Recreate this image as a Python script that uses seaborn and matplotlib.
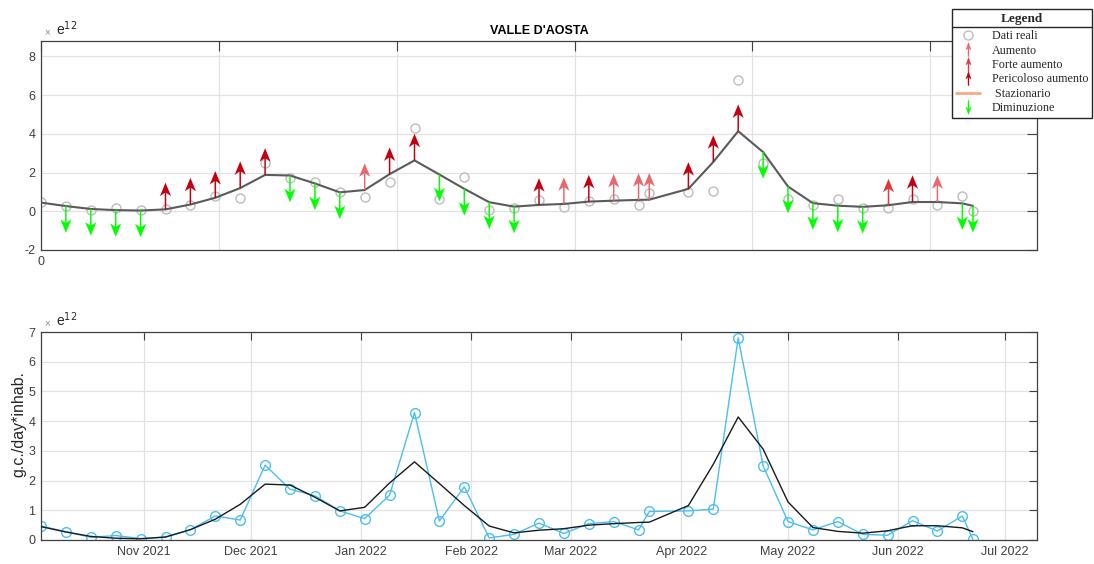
import numpy as np
import pandas as pd
import matplotlib
matplotlib.use("Agg")
import matplotlib.pyplot as plt
import seaborn as sns
from matplotlib.path import Path
from matplotlib.lines import Line2D

# ---------------- data (values in units of 1e12 g.c./day*inhab.) ----------------
dates = ["2021-10-03", "2021-10-10", "2021-10-17", "2021-10-24", "2021-10-31",
         "2021-11-07", "2021-11-14", "2021-11-21", "2021-11-28",
         "2021-12-05", "2021-12-12", "2021-12-19", "2021-12-26",
         "2022-01-02", "2022-01-09", "2022-01-16", "2022-01-23", "2022-01-30",
         "2022-02-06", "2022-02-13", "2022-02-20", "2022-02-27",
         "2022-03-06", "2022-03-13", "2022-03-20", "2022-03-23",
         "2022-04-03", "2022-04-10", "2022-04-17", "2022-04-24",
         "2022-05-01", "2022-05-08", "2022-05-15", "2022-05-22", "2022-05-29",
         "2022-06-05", "2022-06-12", "2022-06-19", "2022-06-22"]

real_vals = [0.47, 0.28, 0.09, 0.15, 0.05, 0.10, 0.34, 0.81, 0.67, 2.52, 1.71, 1.49, 0.98,
             0.72, 1.51, 4.29, 0.64, 1.79, 0.07, 0.19, 0.57, 0.22, 0.55, 0.62, 0.34, 0.96,
             0.98, 1.04, 6.80, 2.50, 0.62, 0.34, 0.62, 0.19, 0.16, 0.65, 0.30, 0.81, 0.02]

smooth_vals = [0.45, 0.27, 0.12, 0.06, 0.04, 0.10, 0.35, 0.70, 1.20, 1.88, 1.85, 1.44, 0.98,
               1.10, 1.92, 2.63, 1.90, 1.16, 0.47, 0.24, 0.33, 0.38, 0.50, 0.55, 0.59, 0.60,
               1.16, 2.55, 4.14, 3.06, 1.28, 0.42, 0.29, 0.23, 0.31, 0.48, 0.48, 0.41, 0.28]

trend = ["none", "dim", "dim", "dim", "dim", "per", "per", "per", "per", "per", "dim", "dim", "dim",
         "aum", "per", "per", "dim", "dim", "dim", "dim", "per", "aum", "per", "aum", "aum", "aum",
         "per", "per", "per", "dim", "dim", "dim", "dim", "dim", "forte", "per", "aum", "dim", "dim"]

legend_labels = ["Dati reali", "Aumento", "Forte aumento", "Pericoloso aumento",
                 " Stazionario", "Diminuzione"]
title_text = "VALLE D'AOSTA"
ylabel_text = "g.c./day*inhab."

# ---------------- styles ----------------
trend_colors = {"aum": "#e8686d", "forte": "#dd3a40", "per": "#c20012", "dim": "#00ff00"}
stat_color = "#f9a88a"
blue = "#4DBEEE"
ARROW_LEN = 1.38

sns.set_style("white")
plt.rcParams["font.family"] = ["Liberation Sans", "DejaVu Sans"]
plt.rcParams["axes.unicode_minus"] = False

W, H = 1094, 564
fig = plt.figure(figsize=(W / 100, H / 100), dpi=100)
ax1 = fig.add_axes([41 / W, 1 - 250 / H, 996 / W, 209 / H])
ax2 = fig.add_axes([41 / W, 1 - 540 / H, 996 / W, 208 / H])

d = pd.to_datetime(dates)
days = np.asarray((d - d[0]).days, dtype=float)
real = np.asarray(real_vals)
smooth = np.asarray(smooth_vals)
tr = np.asarray(trend)

# ---------------- top panel ----------------
sns.lineplot(x=days, y=real, ax=ax1, linestyle="none", marker="o", markersize=6.5,
             markerfacecolor="none", markeredgecolor="#bdbdbd", markeredgewidth=1.0, zorder=2)
sns.lineplot(x=days, y=smooth, ax=ax1, color="#5a5a5a", linewidth=1.5, zorder=3)

for cat, col in trend_colors.items():
    m = tr == cat
    if not m.any():
        continue
    sign = -1.0 if cat == "dim" else 1.0
    ax1.quiver(days[m], smooth[m], np.zeros(m.sum()), sign * ARROW_LEN * np.ones(m.sum()),
               angles="xy", scale_units="xy", scale=1, color=col, units="dots",
               width=1.5, headwidth=7.4, headlength=9.0, headaxislength=6.8, zorder=4)

ax1.set_xlim(0, 280)
ax1.set_ylim(-2, 8.8)
ax1.set_yticks([-2, 0, 2, 4, 6, 8])
ax1.set_xticks([0, 50, 100, 150, 200, 250])
ax1.set_xticklabels(["0", "", "", "", "", ""])
ax1.set_title(title_text, fontsize=9, fontweight="bold", color="#000000", pad=5)

# ---------------- bottom panel ----------------
sns.lineplot(x=d, y=real, ax=ax2, color=blue, linewidth=1.0, marker="o", markersize=7,
             markerfacecolor="none", markeredgecolor=blue, markeredgewidth=1.0, zorder=2)
sns.lineplot(x=d, y=smooth, ax=ax2, color="#1a1a1a", linewidth=1.0, zorder=3)

ax2.set_xlim(pd.Timestamp("2021-10-03"), pd.Timestamp("2022-07-10"))
ax2.set_ylim(0, 7)
ax2.set_yticks(range(0, 8))
months = pd.date_range("2021-11-01", "2022-07-01", freq="MS")
ax2.set_xticks(months)
ax2.set_xticklabels([m.strftime("%b %Y") for m in months])

for ax, tl in ((ax1, 7), (ax2, 6)):
    ax.grid(True, color="#e2e2e2", linewidth=0.9)
    ax.set_axisbelow(True)
    ax.tick_params(direction="in", top=True, right=True, length=tl, width=0.8,
                   colors="#404040", labelsize=9, pad=4)
    for s in ax.spines.values():
        s.set_visible(True)
        s.set_color("#404040")
        s.set_linewidth(0.9)
    ax.set_xlabel("")
    ax.set_ylabel("")
    ax.annotate("\u00d7", xy=(0, 1), xycoords="axes fraction", xytext=(2.5, 3),
                textcoords="offset points", fontsize=7, color="#8c8c8c", va="bottom")
    ax.annotate("e$^{12}$", xy=(0, 1), xycoords="axes fraction", xytext=(11, 2),
                textcoords="offset points", fontsize=10, color="#262626", va="bottom")

ax2.set_ylabel(ylabel_text, fontsize=11.5, color="#262626")
ax2.yaxis.set_label_coords(-15 / 996, (540 - 424) / 208)

# ---------------- legend ----------------
up_verts = [(-0.07, -1.0), (0.07, -1.0), (0.07, 0.2), (0.36, -0.05), (0.0, 1.0),
            (-0.36, -0.05), (-0.07, 0.2), (-0.07, -1.0)]
codes = [Path.MOVETO] + [Path.LINETO] * 6 + [Path.CLOSEPOLY]
up_path = Path(up_verts, codes)
down_path = Path([(x, -y) for x, y in up_verts], codes)

handles = [
    Line2D([], [], linestyle="none", marker="o", markersize=6.5, markerfacecolor="none",
           markeredgecolor="#bdbdbd", markeredgewidth=1.0),
    Line2D([], [], linestyle="none", marker=up_path, markersize=10, color=trend_colors["aum"],
           markeredgewidth=0.3),
    Line2D([], [], linestyle="none", marker=up_path, markersize=10, color=trend_colors["forte"],
           markeredgewidth=0.3),
    Line2D([], [], linestyle="none", marker=up_path, markersize=10, color=trend_colors["per"],
           markeredgewidth=0.3),
    Line2D([], [], color=stat_color, linewidth=2),
    Line2D([], [], linestyle="none", marker=down_path, markersize=10, color=trend_colors["dim"],
           markeredgewidth=0.3),
]
serif = {"family": "Liberation Serif", "size": 8.7}
leg = fig.legend(handles, legend_labels, loc="upper left",
                 bbox_to_anchor=(952 / W, 1 - 9 / H), bbox_transform=fig.transFigure,
                 borderaxespad=0, frameon=True, fancybox=False, edgecolor="#262626",
                 framealpha=1, prop=serif, title="Legend",
                 title_fontproperties={"family": "Liberation Serif", "size": 9.5, "weight": "bold"},
                 labelspacing=0.2, handlelength=2.0, handletextpad=1.0, borderpad=0.3)
leg.get_frame().set_linewidth(1.0)
leg._legend_box.sep = 4

fig.canvas.draw()
tb = leg.get_title().get_window_extent()
fb = leg.get_frame().get_window_extent()
inv = fig.transFigure.inverted()
ysep = tb.y0 - 2.5
(x0f, yf), (x1f, _) = inv.transform([(fb.x0, ysep), (fb.x1, ysep)])
fig.add_artist(Line2D([x0f, x1f], [yf, yf], transform=fig.transFigure, color="#262626",
                      linewidth=1.0, zorder=10))

fig.savefig("out.png", dpi=100)
